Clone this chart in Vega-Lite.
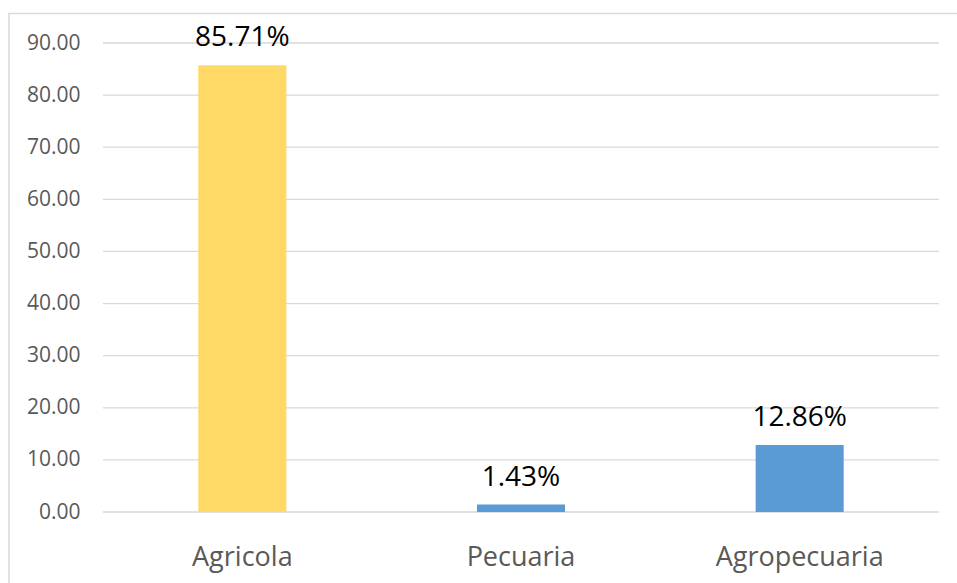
{
  "$schema": "https://vega.github.io/schema/vega-lite/v6.json",
  "width": 949,
  "height": 571,
  "autosize": "none",
  "padding": {"left": 9, "top": 13.5, "right": 0, "bottom": 0},
  "background": "white",
  "view": {"stroke": "#D9D9D9", "strokeWidth": 1.5},
  "datasets": {
    "main": [
      {"category": "Agricola", "value": 85.71, "label": "85.71%"},
      {"category": "Pecuaria", "value": 1.43, "label": "1.43%"},
      {"category": "Agropecuaria", "value": 12.86, "label": "12.86%"}
    ],
    "grid": [
      {"tick": 0}, {"tick": 10}, {"tick": 20}, {"tick": 30}, {"tick": 40},
      {"tick": 50}, {"tick": 60}, {"tick": 70}, {"tick": 80}, {"tick": 90}
    ]
  },
  "layer": [
    {
      "data": {"name": "grid"},
      "mark": {"type": "rule", "color": "#D9D9D9", "strokeWidth": 1.3},
      "encoding": {
        "y": {
          "field": "tick",
          "type": "quantitative",
          "scale": {"domain": [0, 90], "range": [498.5, 29.5], "nice": false, "zero": true},
          "axis": {
            "values": [0, 10, 20, 30, 40, 50, 60, 70, 80, 90],
            "format": ".2f",
            "title": null,
            "grid": false,
            "domain": false,
            "ticks": false,
            "tickSize": 0,
            "labelPadding": 0,
            "offset": -71,
            "labelFont": "Open Sans",
            "labelFontSize": 21,
            "labelColor": "#595959",
            "labelAlign": "right",
            "labelBaseline": "middle"
          }
        },
        "x": {"datum": 0, "type": "quantitative", "scale": {"domain": [0, 1], "range": [94, 930]}, "axis": null},
        "x2": {"datum": 1}
      }
    },
    {
      "data": {"name": "main"},
      "encoding": {
        "x": {
          "field": "category",
          "type": "nominal",
          "sort": null,
          "scale": {"range": [94, 930], "paddingInner": 0.684, "paddingOuter": 0.342},
          "axis": {
            "title": null,
            "domain": false,
            "ticks": false,
            "tickSize": 0,
            "labelPadding": 0,
            "offset": -19.5,
            "labelAngle": 0,
            "labelFont": "Open Sans",
            "labelFontSize": 27,
            "labelColor": "#595959",
            "labelBaseline": "alphabetic"
          }
        },
        "y": {"field": "value", "type": "quantitative"}
      },
      "layer": [
        {
          "mark": {"type": "bar"},
          "encoding": {
            "color": {
              "field": "category",
              "type": "nominal",
              "scale": {"domain": ["Agricola", "Pecuaria", "Agropecuaria"], "range": ["#FFD966", "#5B9BD5", "#5B9BD5"]},
              "legend": null
            }
          }
        },
        {
          "mark": {"type": "text", "font": "Open Sans", "fontSize": 28, "color": "#000000", "baseline": "alphabetic", "align": "center", "dy": -19},
          "encoding": {
            "text": {"field": "label", "type": "nominal"}
          }
        }
      ]
    }
  ],
  "resolve": {"scale": {"x": "independent"}, "axis": {"x": "independent"}}
}
